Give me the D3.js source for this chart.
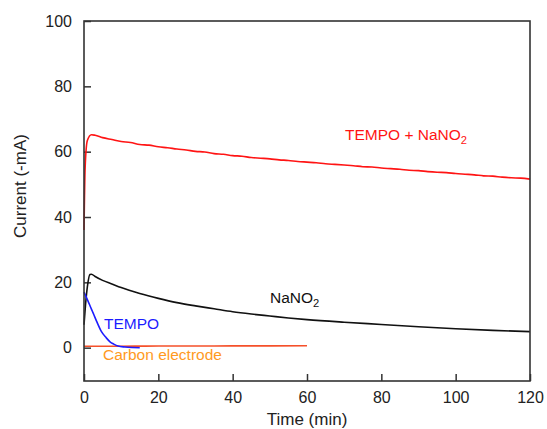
<!DOCTYPE html>
<html>
<head>
<meta charset="utf-8">
<script src="https://cdn.jsdelivr.net/npm/d3@7"></script>
<style>
  html, body { margin: 0; padding: 0; background: #fff; }
  svg { display: block; font-family: "Liberation Sans", Arial, Helvetica, sans-serif; }
</style>
</head>
<body>
<svg id="chart" width="547" height="429"></svg>
<script>
// Chronoamperometry traces: current (-mA) versus time (min)
const xTicks = [0, 20, 40, 60, 80, 100, 120];
const yTicks = [0, 20, 40, 60, 80, 100];

// TEMPO + NaNO2
const tempoNaTime = [0, 0.3, 0.9, 2, 3, 5, 7.5, 10, 12.5, 15, 17.5, 20, 22.5, 25, 27.5, 30, 32.5, 35, 37.5, 40,
  42.5, 45, 47.5, 50, 52.5, 55, 57.5, 60, 62.5, 65, 67.5, 70, 72.5, 75, 77.5, 80, 82.5, 85, 87.5, 90,
  92.5, 95, 97.5, 100, 102.5, 105, 107.5, 110, 112.5, 115, 117.5, 120];
const tempoNaCurrent = [36, 55, 63.4, 65.2, 65.0, 64.3, 63.7, 63.1, 62.8, 62.2, 62.0, 61.5, 61.2, 60.8, 60.5, 60.1, 59.9, 59.4, 59.2, 58.8,
  58.6, 58.2, 58.0, 57.8, 57.5, 57.3, 57.0, 56.8, 56.6, 56.3, 56.1, 55.9, 55.7, 55.4, 55.3, 55.0, 54.8, 54.6, 54.3, 54.2,
  53.9, 53.7, 53.6, 53.3, 53.1, 52.9, 52.6, 52.5, 52.2, 52.0, 51.9, 51.6];

// NaNO2 only
const nitriteTime = [0, 0.4, 0.9, 1.6, 2, 3, 5, 7.5, 10, 15, 20, 25, 30, 35, 40, 45, 50, 55, 60, 70, 80, 90, 100, 110, 120];
const nitriteCurrent = [7, 13, 18.6, 22.4, 22.5, 21.8, 20.6, 19.5, 18.4, 16.6, 15.1, 13.8, 12.8, 11.9, 11.0, 10.3, 9.7, 9.1, 8.6, 7.8, 7.1, 6.4, 5.8, 5.3, 4.9];

// TEMPO only
const tempoTime = [0, 1, 2, 2.5, 3.5, 4.7, 6, 7, 8, 9.2, 11, 13, 15];
const tempoCurrent = [17, 14.5, 11.8, 10.5, 7.8, 4.9, 3.0, 1.8, 1.1, 0.5, 0.2, 0.05, 0];

// Bare carbon electrode
const carbonTime = [0, 10, 20, 30, 40, 50, 60];
const carbonCurrent = [0.45, 0.45, 0.5, 0.5, 0.55, 0.55, 0.6];

const series = [
  { name: "TEMPO + NaNO2", t: tempoNaTime, v: tempoNaCurrent, color: "#ff1414" },
  { name: "NaNO2", t: nitriteTime, v: nitriteCurrent, color: "#111111" },
  { name: "Carbon electrode", t: carbonTime, v: carbonCurrent, color: "#f5502a" },
  { name: "TEMPO", t: tempoTime, v: tempoCurrent, color: "#1c1cff" }
];

const margin = { left: 84, right: 17, top: 21, bottom: 48 };
const W = 547, H = 429;
const svg = d3.select("#chart");

const x = d3.scaleLinear().domain([0, 120]).range([margin.left, W - margin.right]);
const y = d3.scaleLinear().domain([-10.2, 100]).range([H - margin.bottom, margin.top]);

const axisColor = "#333";

// x axis with inward ticks
const gx = svg.append("g")
  .attr("transform", `translate(0,${H - margin.bottom})`)
  .call(d3.axisBottom(x).tickValues(xTicks).tickSize(-7).tickPadding(11).tickSizeOuter(0));
gx.selectAll("text").attr("font-size", 16).attr("fill", "#222").attr("font-family", "Liberation Sans, Arial, sans-serif");

// y axis with inward ticks
const gy = svg.append("g")
  .attr("transform", `translate(${margin.left},0)`)
  .call(d3.axisLeft(y).tickValues(yTicks).tickSize(-7).tickPadding(12).tickSizeOuter(0));
gy.selectAll("text").attr("font-size", 16).attr("fill", "#222").attr("font-family", "Liberation Sans, Arial, sans-serif");

[gx, gy].forEach(g => {
  g.select(".domain").remove();
  g.selectAll(".tick line").attr("stroke", axisColor).attr("stroke-width", 1.5);
});

// curves
const line = d3.line().x(d => x(d[0])).y(d => y(d[1])).curve(d3.curveMonotoneX);
const plot = svg.append("g");
series.forEach(s => {
  const pts = s.t.map((t, i) => [t, s.v[i]]);
  plot.append("path")
    .datum(pts)
    .attr("d", line)
    .attr("fill", "none")
    .attr("stroke", s.color)
    .attr("stroke-width", 1.6)
    .attr("stroke-linejoin", "round");
});

// frame
svg.append("rect")
  .attr("x", x(0)).attr("y", y(100))
  .attr("width", x(120) - x(0)).attr("height", y(-10.2) - y(100))
  .attr("fill", "none").attr("stroke", axisColor).attr("stroke-width", 1.6);

// axis titles
svg.append("text")
  .attr("x", (x(0) + x(120)) / 2).attr("y", 425)
  .attr("text-anchor", "middle").attr("font-size", 17).attr("fill", "#222")
  .text("Time (min)");
svg.append("text")
  .attr("transform", `translate(26,${(y(100) + y(-10.2)) / 2 - 15}) rotate(-90)`)
  .attr("text-anchor", "middle").attr("font-size", 17).attr("fill", "#222")
  .text("Current (-mA)");

// series labels
function label(px, py, main, sub, color, size) {
  const t = svg.append("text").attr("x", px).attr("y", py)
    .attr("font-size", size).attr("fill", color);
  t.append("tspan").text(main);
  if (sub) t.append("tspan").attr("dy", 4).attr("font-size", size * 0.72).text(sub);
  return t;
}
label(345, 140, "TEMPO + NaNO", "2", "#ff1414", 15.5);
label(270, 303, "NaNO", "2", "#111", 15.5);
label(104, 328.5, "TEMPO", null, "#1c1cff", 15.5);
label(103, 360, "Carbon electrode", null, "#ff9a1e", 15.5);
</script>
</body>
</html>
